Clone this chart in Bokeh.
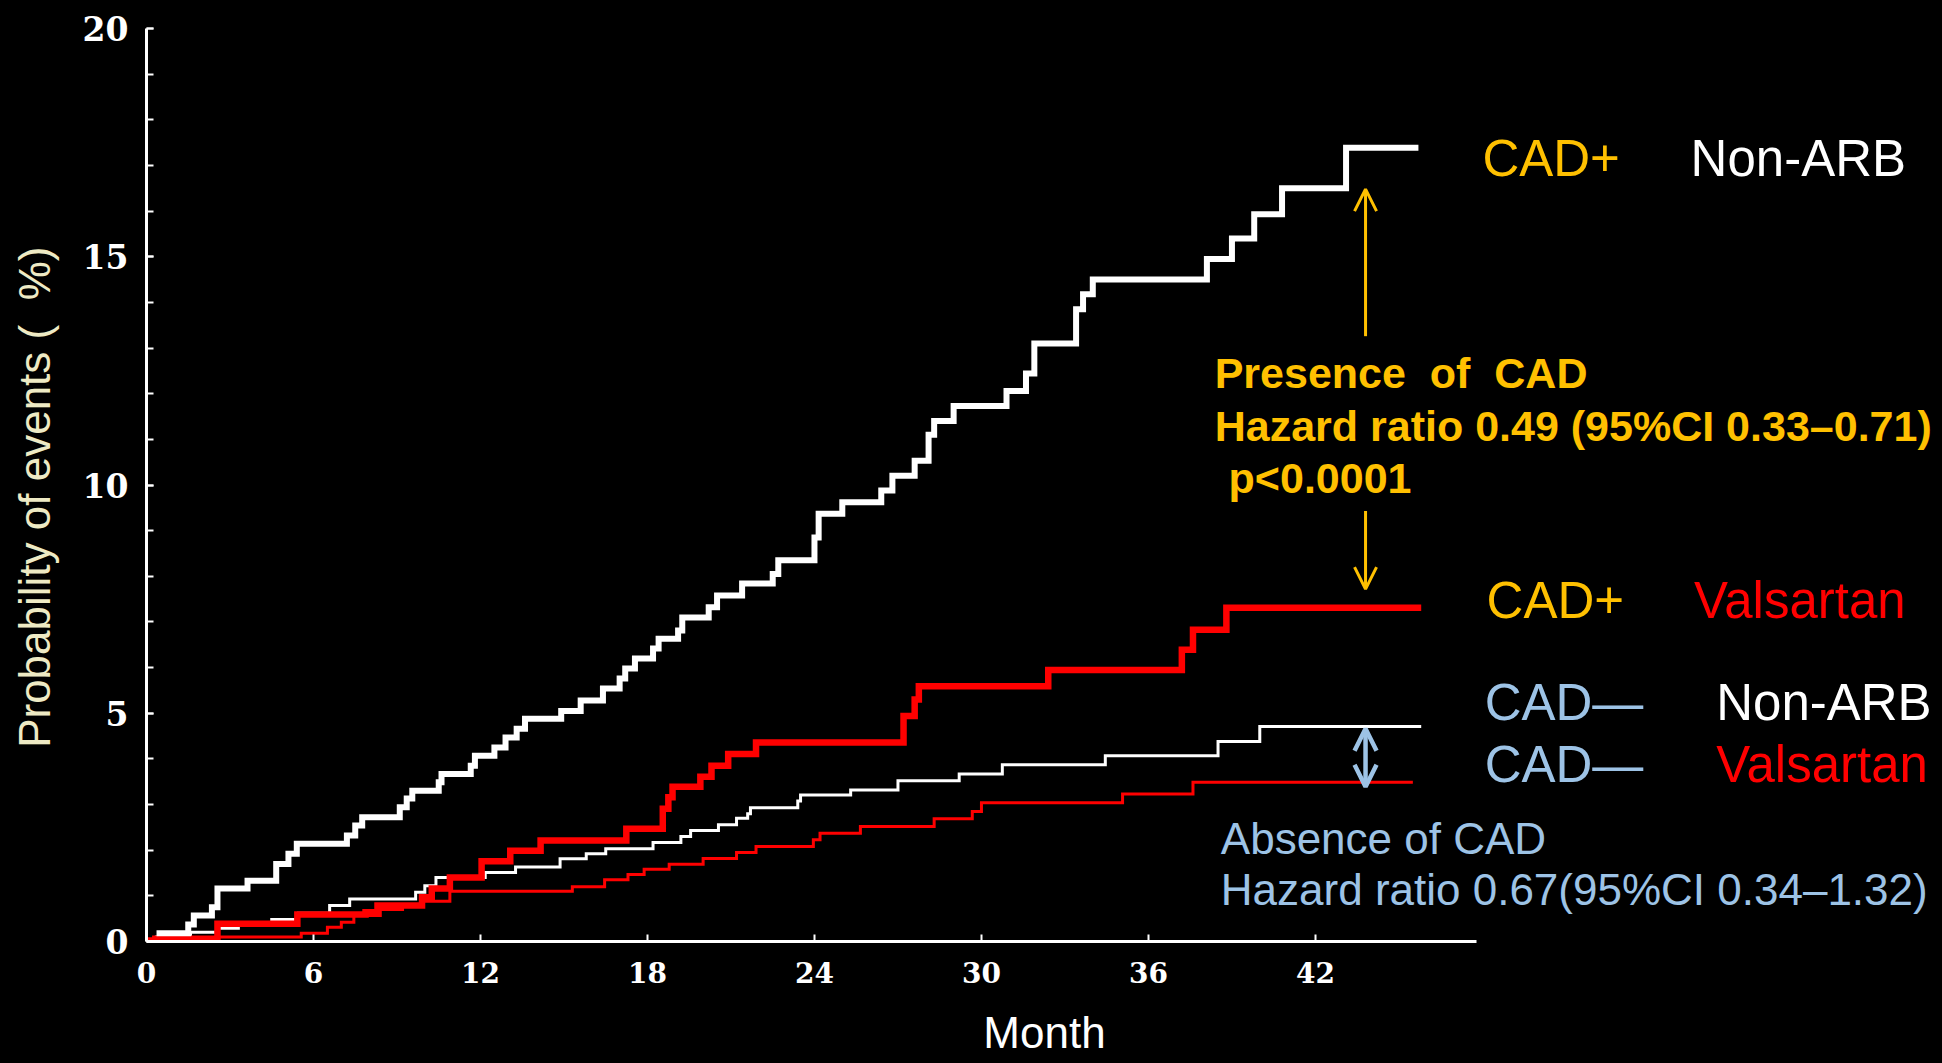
from bokeh.plotting import figure
from bokeh.models import Range1d, FixedTicker, Arrow, OpenHead
from bokeh.embed import file_html
from bokeh.resources import INLINE
from bokeh.core.properties import value

# ---- data (months, cumulative probability of events %) ----
cadpos_nonarb_t = [0.36, 1.5, 1.7, 2.35, 2.55, 3.63, 4.66, 5.1, 5.4, 7.2, 7.5, 7.75, 9.1, 9.35, 9.55,
                   10.5, 10.6, 11.65, 11.8, 12.5, 12.9, 13.3, 13.6, 14.9, 15.6, 16.4, 17.0, 17.2, 17.55,
                   18.2, 18.4, 19.1, 19.25, 20.2, 20.5, 21.4, 22.5, 22.7, 24.0, 24.15, 25.0, 26.4, 26.8,
                   27.6, 28.1, 28.3, 29.0, 30.9, 31.6, 31.9, 33.4, 33.65, 34.0, 38.1, 39.0, 39.8, 40.8,
                   43.1, 45.7]
cadpos_nonarb_v = [0.18, 0.37, 0.57, 0.75, 1.16, 1.33, 1.7, 1.92, 2.14, 2.32, 2.54, 2.72, 2.94, 3.13, 3.3,
                   3.49, 3.67, 3.85, 4.07, 4.25, 4.47, 4.66, 4.88, 5.05, 5.28, 5.54, 5.76, 5.98, 6.2,
                   6.42, 6.63, 6.81, 7.1, 7.32, 7.58, 7.84, 8.05, 8.35, 8.85, 9.37, 9.62, 9.88, 10.2,
                   10.53, 11.1, 11.4, 11.73, 12.06, 12.44, 13.1, 13.85, 14.18, 14.5, 14.95, 15.4, 15.93, 16.5,
                   17.39, 17.39]

cadpos_val_t = [0.0, 2.55, 5.42, 7.87, 8.3, 9.9, 10.25, 10.9, 12.04, 13.07, 14.16, 17.24, 18.55, 18.75,
                18.9, 19.9, 20.3, 20.9, 21.9, 27.2, 27.6, 27.75, 32.4, 37.2, 37.6, 38.8, 45.8]
cadpos_val_v = [0.02, 0.39, 0.59, 0.64, 0.79, 0.97, 1.16, 1.4, 1.76, 1.99, 2.21, 2.47, 2.91, 3.16,
                3.39, 3.61, 3.85, 4.11, 4.36, 4.94, 5.3, 5.59, 5.95, 6.39, 6.83, 7.31, 7.31]

cadneg_nonarb_t = [0.3, 1.58, 2.55, 3.3, 4.5, 5.46, 6.58, 7.3, 9.67, 10.0, 10.4, 12.17, 13.26, 14.86,
                   15.8, 16.5, 18.2, 19.2, 19.55, 20.55, 21.2, 21.6, 21.7, 23.4, 23.5, 25.3, 27.0, 29.2,
                   30.75, 34.45, 38.5, 40.0, 45.8]
cadneg_nonarb_v = [0.1, 0.2, 0.29, 0.39, 0.48, 0.62, 0.79, 0.93, 1.08, 1.22, 1.4, 1.51, 1.63, 1.81,
                   1.92, 2.03, 2.17, 2.3, 2.43, 2.56, 2.7, 2.8, 2.93, 3.08, 3.21, 3.32, 3.52, 3.67,
                   3.87, 4.07, 4.38, 4.71, 4.71]

cadneg_val_t = [0.2, 5.56, 6.5, 7.0, 7.45, 8.4, 9.2, 9.9, 10.9, 15.3, 16.46, 17.3, 17.88, 18.78, 20.0,
                21.2, 21.9, 23.96, 24.2, 25.65, 28.3, 29.67, 30.0, 35.07, 37.6, 45.5]
cadneg_val_v = [0.1, 0.18, 0.31, 0.42, 0.57, 0.7, 0.8, 0.88, 1.1, 1.2, 1.35, 1.47, 1.58, 1.69, 1.82,
                1.95, 2.08, 2.23, 2.37, 2.52, 2.69, 2.85, 3.04, 3.23, 3.49, 3.49]

x_ticks = [0, 6, 12, 18, 24, 30, 36, 42]
y_ticks = [0, 5, 10, 15, 20]
y_minor = list(range(0, 21))

ORANGE = "#FFC000"
BLUE = "#9DC3E6"
RED = "#FF0000"
CREAM = "#EEEAC4"
SANS = "Liberation Sans"
NB = "\u00a0"

p = figure(width=1942, height=1063, output_backend="svg", toolbar_location=None,
           x_range=Range1d(0, 64.53), y_range=Range1d(0, 20),
           min_border_left=146, min_border_top=28, min_border_bottom=122, min_border_right=0)
p.background_fill_color = "black"
p.border_fill_color = "black"
p.outline_line_color = None
p.grid.visible = False

xa = p.xaxis[0]
xa.ticker = FixedTicker(ticks=x_ticks, minor_ticks=[])
xa.bounds = (0, 47.8)
xa.axis_line_color = "white"
xa.axis_line_width = 3
xa.major_tick_line_color = "white"
xa.major_tick_line_width = 2
xa.major_tick_in = 7
xa.major_tick_out = 0
xa.minor_tick_line_color = None
xa.major_label_text_color = "white"
xa.major_label_text_font = "DejaVu Serif"
xa.major_label_text_font_style = "bold"
xa.major_label_text_font_size = "28px"
xa.major_label_standoff = 20
xa.axis_label = "Month"
xa.axis_label_text_font = SANS
xa.axis_label_text_font_size = "44px"
xa.axis_label_text_font_style = "normal"
xa.axis_label_text_color = "white"
xa.axis_label_standoff = 22

ya = p.yaxis[0]
ya.ticker = FixedTicker(ticks=y_ticks, minor_ticks=y_minor)
ya.bounds = (0, 20)
ya.axis_line_color = "white"
ya.axis_line_width = 3
ya.major_tick_line_color = "white"
ya.major_tick_line_width = 2
ya.major_tick_in = 7
ya.major_tick_out = 0
ya.minor_tick_line_color = "white"
ya.minor_tick_line_width = 2
ya.minor_tick_in = 7
ya.minor_tick_out = 0
ya.major_label_text_color = "white"
ya.major_label_text_font = "DejaVu Serif"
ya.major_label_text_font_style = "bold"
ya.major_label_text_font_size = "33px"
ya.major_label_standoff = 18
ya.axis_label = "Probability of events (" + NB + NB + "%)" + NB + NB
ya.axis_label_text_font = SANS
ya.axis_label_text_font_size = "44px"
ya.axis_label_text_font_style = "normal"
ya.axis_label_text_color = CREAM
ya.axis_label_standoff = 21

# ---- curves ----
p.step(cadneg_nonarb_t, cadneg_nonarb_v, mode="after", line_color="white", line_width=3, line_join="miter")
p.step(cadneg_val_t, cadneg_val_v, mode="after", line_color=RED, line_width=3, line_join="miter")
p.step(cadpos_val_t, cadpos_val_v, mode="after", line_color=RED, line_width=6.5, line_join="miter")
p.step(cadpos_nonarb_t, cadpos_nonarb_v, mode="after", line_color="white", line_width=6, line_join="miter")

# ---- group labels ----
def txt(x, y, s, color, size, style="normal"):
    p.text(x=[x], y=[y], text=[s], text_color=color, text_font=value(SANS),
           text_font_size=size, text_font_style=style, text_baseline="middle", text_align="left")

txt(48.0, 17.16, "CAD+", ORANGE, "51px")
txt(55.48, 17.16, "Non-ARB", "white", "51px")
txt(48.15, 7.46, "CAD+", ORANGE, "51px")
txt(55.6, 7.46, "Valsartan", RED, "51px")
txt(48.08, 5.23, "CAD\u2014", BLUE, "51px")
txt(56.4, 5.23, "Non-ARB", "white", "51px")
txt(48.08, 3.87, "CAD\u2014", BLUE, "51px")
txt(56.4, 3.87, "Valsartan", RED, "51px")

txt(38.38, 12.45, "Presence" + NB + NB + "of" + NB + NB + "CAD", ORANGE, "43px", "bold")
txt(38.38, 11.29, "Hazard ratio 0.49 (95%CI 0.33\u20130.71)", ORANGE, "43px", "bold")
txt(38.88, 10.15, "p<0.0001", ORANGE, "43px", "bold")

txt(38.6, 2.25, "Absence of CAD", BLUE, "44px")
txt(38.6, 1.14, "Hazard ratio 0.67(95%CI 0.34\u20131.32)", BLUE, "44px")

# ---- arrows ----
p.add_layout(Arrow(end=OpenHead(size=22, line_color=ORANGE, line_width=3),
                   x_start=43.8, y_start=13.26, x_end=43.8, y_end=16.48,
                   line_color=ORANGE, line_width=3))
p.add_layout(Arrow(end=OpenHead(size=22, line_color=ORANGE, line_width=3),
                   x_start=43.8, y_start=9.43, x_end=43.8, y_end=7.72,
                   line_color=ORANGE, line_width=3))
p.add_layout(Arrow(start=OpenHead(size=22, line_color=BLUE, line_width=4.5),
                   end=OpenHead(size=22, line_color=BLUE, line_width=4.5),
                   x_start=43.8, y_start=3.39, x_end=43.8, y_end=4.66,
                   line_color=BLUE, line_width=4.5))

TEMPLATE = """{% block postamble %}<style>html, body { background: #000000; margin: 0; padding: 0; overflow: hidden; }</style>{% endblock %}"""

open("out.html", "w").write(file_html(p, INLINE, template=TEMPLATE))
